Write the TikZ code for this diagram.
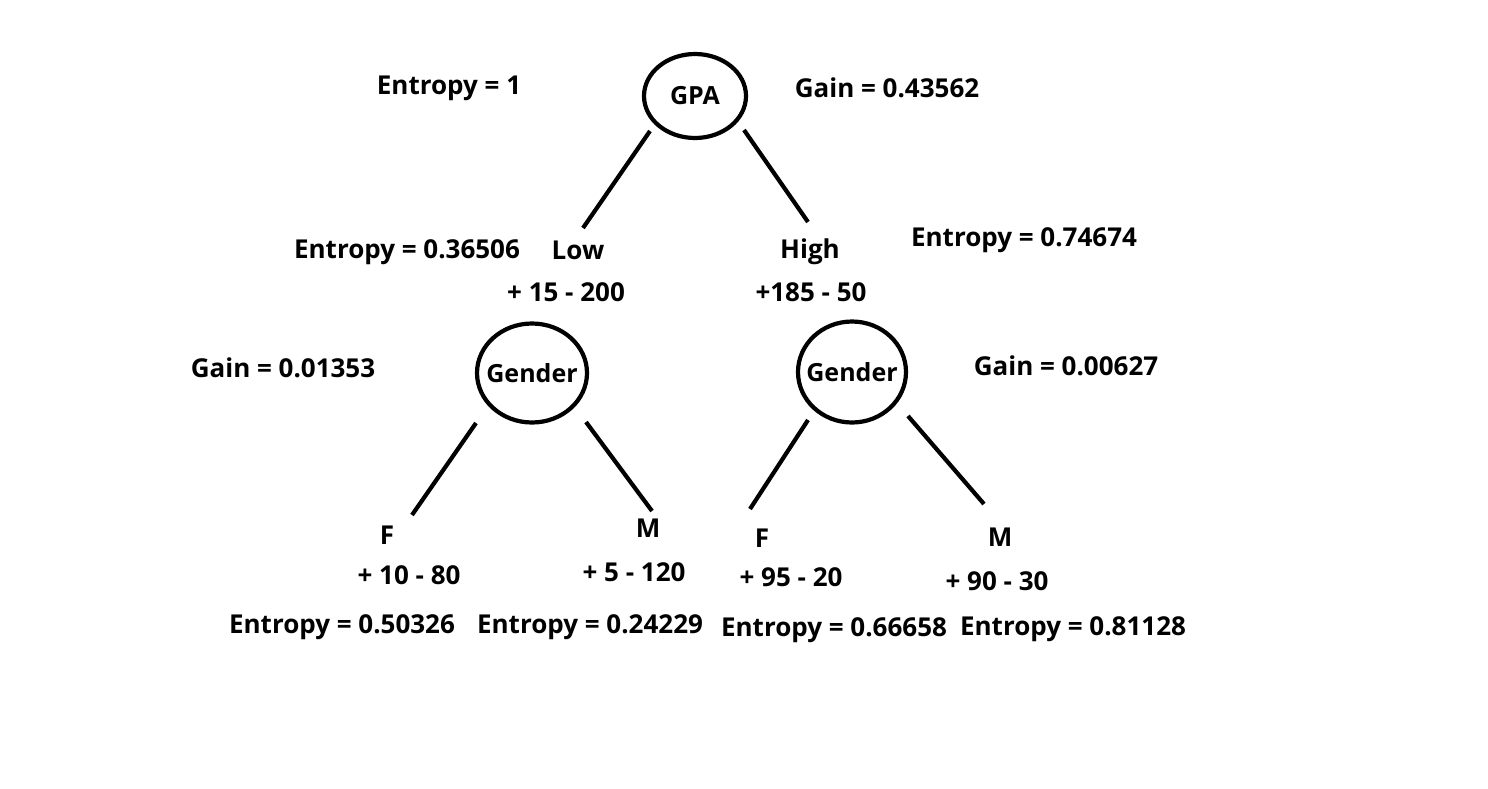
\documentclass[tikz,border=0pt]{standalone}
\usepackage{fontspec}
\setmainfont{Open Sans}
\usetikzlibrary{shapes.geometric}
\begin{document}
\begin{tikzpicture}[x=1pt,y=-1pt,
  lbl/.style={font=\fontsize{26}{30}\selectfont\bfseries, inner sep=0pt, anchor=center},
  circ/.style={ellipse, draw, line width=4.2pt, inner sep=0pt, font=\fontsize{25}{30}\selectfont\bfseries},
  edge/.style={line width=4.2pt}]
\useasboundingbox (0,0) rectangle (1488,788);
\fill[white] (0,0) rectangle (1488,788);
% circles
\node[circ, minimum width=102pt, minimum height=84pt] (gpa) at (695,96) {\makebox[0pt]{\raisebox{-2pt}{GPA}}};
\node[circ, minimum width=110pt, minimum height=99pt] (gl) at (532,373) {\makebox[0pt]{\raisebox{-2pt}{Gender}}};
\node[circ, minimum width=108pt, minimum height=101pt] (gr) at (852,372) {\makebox[0pt]{Gender}};
% edge endpoints
\coordinate (a1) at (650,131); \coordinate (a2) at (583,228);
\coordinate (b1) at (744,130); \coordinate (b2) at (808,222);
\coordinate (c1) at (476,423); \coordinate (c2) at (412,515);
\coordinate (d1) at (586,422); \coordinate (d2) at (652,511);
\coordinate (e1) at (808,420); \coordinate (e2) at (750,509);
\coordinate (f1) at (908,416); \coordinate (f2) at (984,504);
\draw[edge] (a1) -- (a2);
\draw[edge] (b1) -- (b2);
\draw[edge] (c1) -- (c2);
\draw[edge] (d1) -- (d2);
\draw[edge] (e1) -- (e2);
\draw[edge] (f1) -- (f2);
% labels
\node[lbl] (t1) at (449,88) {Entropy = 1};
\node[lbl] (t2) at (887,88) {Gain = 0.43562};
\node[lbl] (t3) at (407,252) {Entropy = 0.36506};
\node[lbl] (t4) at (578,250) {Low};
\node[lbl] (t5) at (566,292) {+ 15 - 200};
\node[lbl] (t6) at (810,252) {High};
\node[lbl] (t7) at (811,292) {+185 - 50};
\node[lbl] (t8) at (1024,240) {Entropy = 0.74674};
\node[lbl] (t9) at (283,368) {Gain = 0.01353};
\node[lbl] (t10) at (1066,366) {Gain = 0.00627};
\node[lbl] (t11) at (387,535) {F};
\node[lbl] (t12) at (409,575) {+ 10 - 80};
\node[lbl] (t13) at (648,528) {M};
\node[lbl] (t14) at (634,572) {+ 5 - 120};
\node[lbl] (t15) at (762,538) {F};
\node[lbl] (t16) at (791,577) {+ 95 - 20};
\node[lbl] (t17) at (1000,537) {M};
\node[lbl] (t18) at (997,581) {+ 90 - 30};
\node[lbl] (t19) at (342,627) {Entropy = 0.50326};
\node[lbl] (t20) at (590,627) {Entropy = 0.24229};
\node[lbl] (t21) at (834,630) {Entropy = 0.66658};
\node[lbl] (t22) at (1073,629) {Entropy = 0.81128};
\end{tikzpicture}
\end{document}
